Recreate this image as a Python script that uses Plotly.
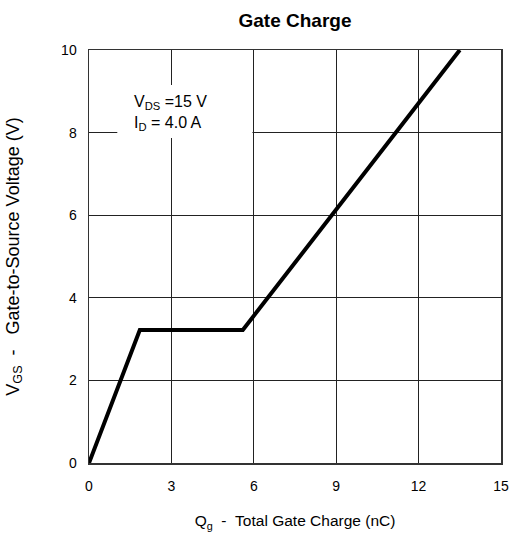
import plotly.graph_objects as go

# Data
qg_nc = [0.0, 1.85, 5.6, 13.5]
vgs_v = [0.0, 3.22, 3.22, 10.0]

x_ticks = [0, 3, 6, 9, 12, 15]
y_ticks = [0, 2, 4, 6, 8, 10]

title_text = "<b>Gate Charge</b>"
x_title = "Q<sub>g</sub>&nbsp;&nbsp;-&nbsp;&nbsp;Total Gate Charge (nC)"
y_title = "V<sub>GS</sub>&nbsp;&nbsp;-&nbsp;&nbsp;&nbsp;Gate-to-Source Voltage (V)"
cond_text = "V<sub>DS</sub> =15 V<br>I<sub>D</sub> = 4.0 A"

FONT = "Liberation Sans, Arial, sans-serif"

W, H = 512, 545

fig = go.Figure()
fig.add_trace(go.Scatter(
    x=qg_nc, y=vgs_v, mode="lines",
    line=dict(color="black", width=4),
    hoverinfo="skip", showlegend=False,
))

# white box behind the test-condition text, hiding the grid
fig.add_shape(type="rect", xref="x", yref="y",
              x0=1.03, x1=5.95, y0=7.87, y1=9.15,
              fillcolor="white", line=dict(width=0), layer="between")

fig.add_annotation(
    x=1.55, y=8.47, xref="x", yref="y",
    text=cond_text, showarrow=False, xanchor="left", yanchor="middle",
    align="left", font=dict(family=FONT, size=16, color="black"),
)

axis_common = dict(
    showgrid=True, gridcolor="#222", gridwidth=1.2,
    showline=True, linecolor="#333", linewidth=1.5, mirror=True,
    ticks="", zeroline=False, fixedrange=True, automargin=False,
    tickfont=dict(family=FONT, size=14, color="black"),
)

fig.update_xaxes(
    range=[0, 15], tickmode="array", tickvals=x_ticks,
    ticktext=[str(v) for v in x_ticks], ticklabelstandoff=10,
    title=dict(text=x_title, font=dict(family=FONT, size=15.5, color="black"), standoff=22),
    **axis_common,
)
fig.update_yaxes(
    range=[0, 10], tickmode="array", tickvals=y_ticks,
    ticktext=[str(v) for v in y_ticks], ticklabelstandoff=8,
    title=dict(text=y_title, font=dict(family=FONT, size=18, color="black"), standoff=37),
    **axis_common,
)

fig.update_layout(
    width=W, height=H,
    margin=dict(l=89, r=11, t=50, b=82),
    paper_bgcolor="white", plot_bgcolor="white",
    title=dict(text=title_text, x=0.5, xref="paper", xanchor="center",
               y=1 - 20 / H, yref="container", yanchor="middle",
               font=dict(family=FONT, size=19, color="black")),
)

fig.write_html("out.html",
               config={"displayModeBar": False, "staticPlot": True},
               post_script="document.body.style.margin='0';document.body.style.overflow='hidden';")
